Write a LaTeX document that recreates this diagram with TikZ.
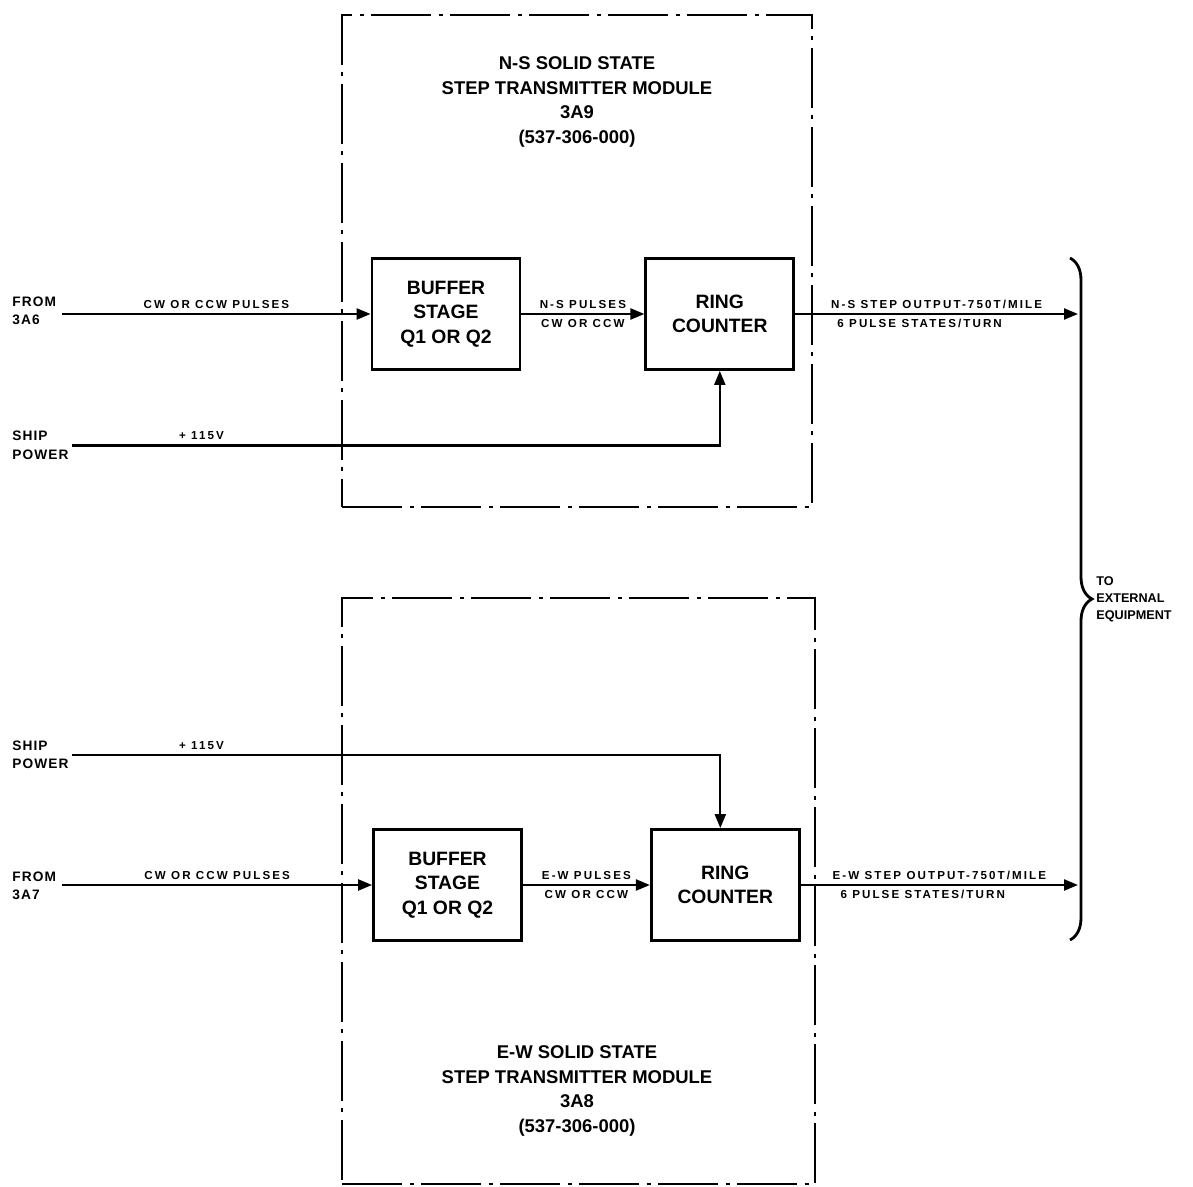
\documentclass[tikz,border=0pt]{standalone}
\usepackage{fontspec}
\setmainfont{Liberation Sans}
\newfontfamily\tagfont[LetterSpace=18]{Liberation Sans}
\newfontfamily\srcfont[LetterSpace=8]{Liberation Sans}
\usetikzlibrary{positioning, arrows.meta, decorations.pathreplacing}

\begin{document}
\begin{tikzpicture}[
      frame/.style={draw, line width=1.4pt, dash pattern=on 1.2cm off 0.15cm on 0.08cm off 0.15cm},
      block/.style={rectangle, draw, line width=1.6pt, minimum width=2.96cm, minimum height=2.22cm, align=center, font=\fontsize{11}{14}\selectfont\bfseries},
      title/.style={align=center, font=\fontsize{10.5}{14}\selectfont\bfseries},
      tag/.style={font=\tagfont\fontsize{6.6}{7}\selectfont\bfseries, inner sep=2.5pt},
      src/.style={align=left, anchor=west, inner sep=0pt, font=\srcfont\fontsize{7.8}{10.5}\selectfont\bfseries},
      arr/.style={line width=1.3pt, -{Triangle[length=2.8mm,width=2.2mm]}},
      brc/.style={decorate, decoration={brace, amplitude=0.44cm}, line width=1.6pt}
   ]
      \useasboundingbox (0,0) rectangle (23.86,-23.74);

      % N-S module (top)
      \node (ns) [frame, minimum width=9.4cm, minimum height=9.84cm] at (11.54,-5.22) {};
      \node (nstitle) [title] at (11.54,-2.04) {N-S SOLID STATE\\STEP TRANSMITTER MODULE\\3A9\\(537-306-000)};
      \node (buf1)  [block] at (8.92,-6.28)         {BUFFER\\STAGE\\Q1 OR Q2};
      \node (ring1) [block, right=2.46cm of buf1]   {RING\\COUNTER};

      % E-W module (bottom)
      \node (ew) [frame, minimum width=9.46cm, minimum height=11.72cm] at (11.57,-17.82) {};
      \node (ewtitle) [title] at (11.54,-21.82) {E-W SOLID STATE\\STEP TRANSMITTER MODULE\\3A8\\(537-306-000)};
      \node (buf2)  [block] at (8.95,-17.7)         {BUFFER\\STAGE\\Q1 OR Q2};
      \node (ring2) [block, right=2.54cm of buf2]   {RING\\COUNTER};

      % Sources on the left
      \node (from1) [src] at (0.24,-6.22)  {FROM\\3A6};
      \node (ship1) [src] at (0.24,-8.91)  {SHIP\\POWER};
      \node (ship2) [src] at (0.24,-15.1)  {SHIP\\POWER};
      \node (from2) [src] at (0.24,-17.72) {FROM\\3A7};

      % Outputs and brace
      \coordinate (out1) at (21.56,-6.28);
      \coordinate (out2) at (21.56,-17.7);
      \coordinate (b1) at (21.4,-5.16);
      \coordinate (b2) at (21.4,-18.8);

      % Top arrows
      \draw[arr] ([xshift=0.12cm]from1.east |- buf1.west) -- node[tag, above] {CW OR CCW PULSES} (buf1.west);
      \draw[arr] (buf1) -- node[tag, above] {N-S PULSES} node[tag, below] {CW OR CCW} (ring1);
      \draw[arr] ([xshift=0.06cm]ship1.east) -| node[tag, above, pos=0.1] {+ 115V} (ring1.south);
      \draw[arr] (ring1.east) -- node[tag, above] {N-S STEP OUTPUT-750T/MILE}
                 node[tag, below, pos=0.44] {6 PULSE STATES/TURN} (out1);

      % Bottom arrows
      \draw[arr] ([xshift=0.12cm]from2.east |- buf2.west) -- node[tag, above] {CW OR CCW PULSES} (buf2.west);
      \draw[arr] (buf2) -- node[tag, above] {E-W PULSES} node[tag, below] {CW OR CCW} (ring2);
      \draw[arr] ([xshift=0.06cm]ship2.east) -| node[tag, above, pos=0.1] {+ 115V} ([xshift=-0.1cm]ring2.north);
      \draw[arr] (ring2.east) -- node[tag, above] {E-W STEP OUTPUT-750T/MILE}
                 node[tag, below, pos=0.44] {6 PULSE STATES/TURN} (out2);

      % Both outputs go to external equipment
      \draw[brc] (b1) -- node[src, right=0.5cm, font=\fontsize{7.2}{9.6}\selectfont\bfseries] (ext) {TO\\EXTERNAL\\EQUIPMENT} (b2);
   \end{tikzpicture}
\end{document}
